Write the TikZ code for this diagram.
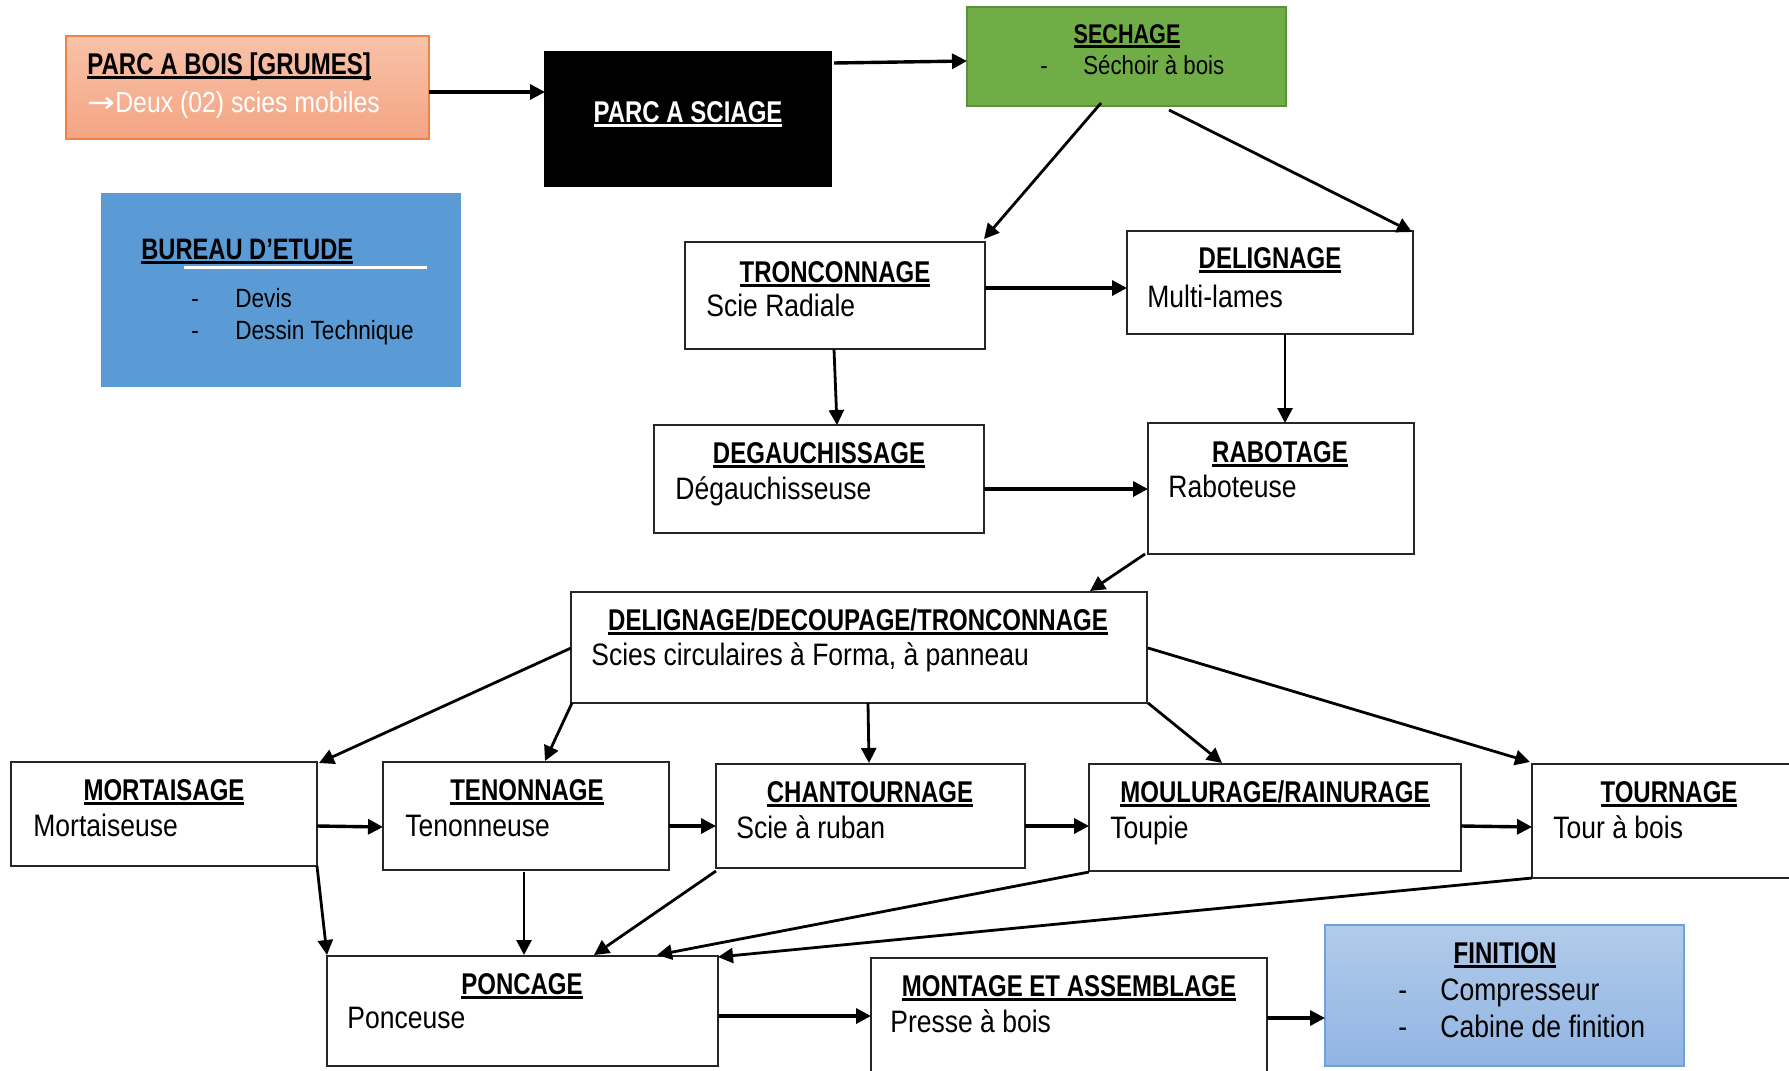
\documentclass[tikz,border=0pt]{standalone}
\usepackage{fontspec}
\setmainfont[FakeStretch=0.855]{Liberation Sans}
\newfontfamily\tfont[FakeStretch=0.80]{Liberation Sans}
\newfontfamily\arrfont[FakeStretch=1.15]{DejaVu Sans}
\usetikzlibrary{arrows.meta,calc}
\definecolor{salmonT}{HTML}{F8C2A9}
\definecolor{salmonB}{HTML}{F4A583}
\definecolor{orangeB}{HTML}{EE8444}
\definecolor{bureau}{HTML}{5B9BD5}
\definecolor{greenF}{HTML}{70AD47}
\definecolor{greenB}{HTML}{5B9239}
\definecolor{blueT}{HTML}{B1CBEA}
\definecolor{blueB}{HTML}{91B5E3}
\definecolor{blueD}{HTML}{6FA1DC}
\newcommand\ulx[2][black]{\setbox0\hbox{#2}\rlap{\color{#1}\rule[-2.3pt]{\wd0}{1.3pt}}\box0}
\newcommand\mkbox[6][]{\node[boxst,#1,minimum width={(#5-#3)*0.5pt},minimum height={(#6-#4)*0.5pt}] (#2) at (#3,#4) {};}
\tikzset{
  boxst/.style={draw=black!85, line width=1pt, fill=white, inner sep=0, outer sep=0, anchor=north west},
  arr/.style={-{Triangle[length=7.5pt,width=7.5pt]}, line width=1.7pt},
  tarr/.style={-{Triangle[length=7.5pt,width=7.5pt]}, line width=1.4pt},
  ttl/.style={inner sep=0, anchor=base, font=\tfont\bfseries\fontsize{15}{18}\selectfont},
  bdy/.style={inner sep=0, anchor=base west, font=\fontsize{15.5}{18}\selectfont},
}
\begin{document}
\begin{tikzpicture}[x=0.5pt,y=-0.5pt]
\useasboundingbox (0,0) rectangle (1789,1071);
\clip (0,0) rectangle (1789,1071);
\fill[white] (0,0) rectangle (1789,1071);
% boxes
\mkbox[top color=salmonT,bottom color=salmonB,draw=orangeB,line width=0.8pt]{pab}{66}{36}{429}{139}
\mkbox[fill=black,draw=black]{pas}{545}{52}{831}{186}
\mkbox[fill=bureau,draw=bureau]{bur}{102}{194}{460}{386}
\mkbox[fill=greenF,draw=greenB,line width=1.2pt]{sech}{967}{7}{1286}{106}
\mkbox{tron}{685}{242}{985}{349}
\mkbox{delig}{1127}{231}{1413}{334}
\mkbox{degau}{654}{425}{984}{533}
\mkbox{rabot}{1148}{423}{1414}{554}
\mkbox{dd}{571}{592}{1147}{703}
\mkbox{mort}{11}{762}{317}{866}
\mkbox{tenon}{383}{762}{669}{870}
\mkbox{chant}{716}{764}{1025}{868}
\mkbox{moul}{1089}{764}{1461}{871}
\mkbox{tourn}{1532}{764}{1806}{878}
\mkbox{ponc}{327}{956}{718}{1066}
\mkbox{mont}{871}{958}{1267}{1090}
\mkbox[top color=blueT,bottom color=blueB,draw=blueD,line width=0.9pt]{fin}{1325}{925}{1684}{1066}
% texts
\node[ttl,anchor=base west] (tpab) at (87,74) {\ulx{PARC A BOIS [GRUMES]}};
\node[bdy,text=white,font=\fontsize{14.5}{17}\selectfont] (bpab) at (87,112) {{\arrfont →}Deux (02) scies mobiles};
\node[ttl,text=white] (tpas) at (688,122) {\ulx[white]{PARC A SCIAGE}};
\draw[white,line width=1.5pt] (184,267.5) -- (427,267.5);
\node[ttl,anchor=base west,font=\tfont\bfseries\fontsize{14.8}{17}\selectfont] (tbur) at (141,259) {\ulx{BUREAU D’ETUDE}};
\node[bdy,font=\fontsize{13.2}{16}\selectfont] (dbur1) at (191,307) {-};
\node[bdy,font=\fontsize{13.2}{16}\selectfont] (bbur1) at (235,307) {Devis};
\node[bdy,font=\fontsize{13.2}{16}\selectfont] (dbur2) at (191,339) {-};
\node[bdy,font=\fontsize{13.2}{16}\selectfont] (bbur2) at (235,339) {Dessin Technique};
\node[ttl,font=\tfont\bfseries\fontsize{13.5}{16}\selectfont] (tsech) at (1127,43) {\ulx{SECHAGE}};
\node[bdy,font=\fontsize{13}{16}\selectfont] (dsech) at (1040,74) {-};
\node[bdy,font=\fontsize{13}{16}\selectfont] (bsech) at (1083,74) {Séchoir à bois};
\node[ttl] (ttron) at (835,282) {\ulx{TRONCONNAGE}};
\node[bdy] (btron) at (706,316) {Scie Radiale};
\node[ttl] (tdelig) at (1270,268) {\ulx{DELIGNAGE}};
\node[bdy] (bdelig) at (1147,307) {Multi-lames};
\node[ttl] (tdegau) at (819,463) {\ulx{DEGAUCHISSAGE}};
\node[bdy] (bdegau) at (675,499) {Dégauchisseuse};
\node[ttl] (trabot) at (1280,462) {\ulx{RABOTAGE}};
\node[bdy] (brabot) at (1168,497) {Raboteuse};
\node[ttl] (tdd) at (858,630) {\ulx{DELIGNAGE/DECOUPAGE/TRONCONNAGE}};
\node[bdy] (bdd) at (591,665) {Scies circulaires à Forma, à panneau};
\node[ttl] (tmort) at (164,800) {\ulx{MORTAISAGE}};
\node[bdy] (bmort) at (33,836) {Mortaiseuse};
\node[ttl] (ttenon) at (527,800) {\ulx{TENONNAGE}};
\node[bdy] (btenon) at (405,836) {Tenonneuse};
\node[ttl] (tchant) at (870,802) {\ulx{CHANTOURNAGE}};
\node[bdy] (bchant) at (736,838) {Scie à ruban};
\node[ttl] (tmoul) at (1275,802) {\ulx{MOULURAGE/RAINURAGE}};
\node[bdy] (bmoul) at (1110,838) {Toupie};
\node[ttl] (ttourn) at (1669,802) {\ulx{TOURNAGE}};
\node[bdy] (btourn) at (1553,838) {Tour à bois};
\node[ttl] (tponc) at (522,994) {\ulx{PONCAGE}};
\node[bdy] (bponc) at (347,1028) {Ponceuse};
\node[ttl] (tmont) at (1069,996) {\ulx{MONTAGE ET ASSEMBLAGE}};
\node[bdy] (bmont) at (890,1032) {Presse à bois};
\node[ttl] (tfin) at (1505,963) {\ulx{FINITION}};
\node[bdy] (dfin1) at (1398,1000) {-};
\node[bdy] (bfin1) at (1440,1000) {Compresseur};
\node[bdy] (dfin2) at (1398,1037) {-};
\node[bdy] (bfin2) at (1440,1037) {Cabine de finition};
% arrows
\draw[arr] ($(pab.north east)+(0,56)$) -- ($(pas.north west)+(0,40)$);
\draw[arr] ($(pas.north east)+(3,11)$) -- ($(sech.north west)+(0,54)$);
\draw[tarr] ($(sech.south west)+(134,-3)$) -- ($(tron.north east)+(-1,-3)$);
\draw[tarr] ($(sech.south west)+(202,4)$) -- ($(delig.north east)+(-1,1)$);
\draw[arr] ($(tron.north east)+(0,46)$) -- ($(delig.north west)+(0,57)$);
\draw[tarr] ($(tron.south west)+(149,0)$) -- ($(degau.north west)+(183,0)$);
\draw[tarr] ($(delig.south west)+(158,0)$) -- ($(rabot.north west)+(137,0)$);
\draw[arr] ($(degau.north east)+(0,64)$) -- ($(rabot.north west)+(0,66)$);
\draw[tarr] ($(rabot.south west)+(-3,0)$) -- ($(dd.north east)+(-57,-1)$);
\draw[tarr] ($(dd.north west)+(0,56)$) -- ($(mort.north east)+(2,1)$);
\draw[tarr] ($(dd.south west)+(1,0)$) -- ($(tenon.north west)+(162,-1)$);
\draw[tarr] ($(dd.south west)+(297,0)$) -- ($(chant.north west)+(153,-1)$);
\draw[tarr] ($(dd.south east)+(1,0)$) -- ($(moul.north west)+(133,-1)$);
\draw[tarr] ($(dd.north east)+(1,56)$) -- ($(tourn.north west)+(-2,-2)$);
\draw[arr] ($(mort.north east)+(0,64)$) -- ($(tenon.north west)+(0,65)$);
\draw[arr] ($(tenon.north east)+(0,64)$) -- ($(chant.north west)+(0,62)$);
\draw[arr] ($(chant.north east)+(0,62)$) -- ($(moul.north west)+(0,62)$);
\draw[arr] ($(moul.north east)+(0,62)$) -- ($(tourn.north west)+(0,63)$);
\draw[tarr] (mort.south east) -- ($(ponc.north west)+(0,-1)$);
\draw[tarr] ($(tenon.south west)+(141,2)$) -- ($(ponc.north west)+(197,-1)$);
\draw[tarr] ($(chant.south west)+(0,3)$) -- ($(ponc.north west)+(267,-1)$);
\draw[tarr] ($(moul.south west)+(0,1)$) -- ($(ponc.north west)+(330,-1)$);
\draw[tarr] (tourn.south west) -- ($(ponc.north east)+(0,1)$);
\draw[arr] ($(ponc.north east)+(0,60)$) -- ($(mont.north west)+(0,58)$);
\draw[arr] ($(mont.north east)+(0,60)$) -- ($(fin.north west)+(0,93)$);
\end{tikzpicture}
\end{document}
